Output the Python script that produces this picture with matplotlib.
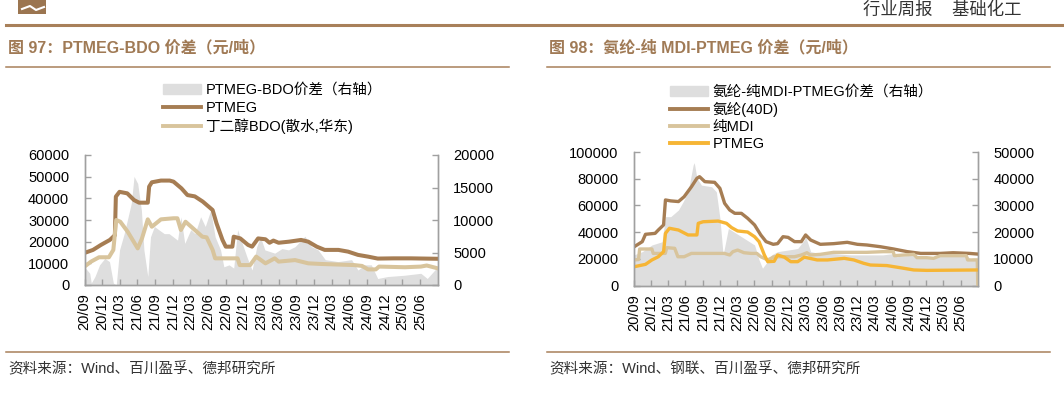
import matplotlib
matplotlib.use('Agg')
import matplotlib.pyplot as plt
import matplotlib.dates as mdates
import pandas as pd
from matplotlib.lines import Line2D
from matplotlib.patches import Patch, Rectangle

plt.rcParams['font.family'] = ['Liberation Sans', 'Noto Sans CJK SC']

# ---------------- data: figure 97 (PTMEG-BDO) ----------------
ptmeg1_dates = ['2020-09-01', '2020-10-15', '2020-11-25', '2021-01-10', '2021-02-05', '2021-02-10',
                '2021-03-01', '2021-04-10', '2021-05-15', '2021-06-10', '2021-07-25', '2021-08-01',
                '2021-08-15', '2021-10-01', '2021-11-15', '2021-12-05', '2022-01-15', '2022-02-15',
                '2022-03-25', '2022-05-05', '2022-06-25', '2022-07-15', '2022-08-15', '2022-09-01',
                '2022-10-05', '2022-10-12', '2022-11-15', '2022-12-25', '2023-01-15', '2023-02-15',
                '2023-03-25', '2023-04-15', '2023-05-05', '2023-06-01', '2023-07-25', '2023-09-25',
                '2023-11-01', '2023-12-15', '2024-01-25', '2024-04-05', '2024-05-25', '2024-07-15',
                '2024-09-05', '2024-10-25', '2025-01-15', '2025-04-15', '2025-08-31']
ptmeg1_vals = [14800, 16200, 18500, 20800, 23000, 40800, 43000, 42300, 39200, 38000, 38000, 45400,
               47400, 48200, 48200, 47700, 44600, 41500, 40900, 38500, 34600, 28500, 20800, 17700,
               17700, 22300, 21500, 18500, 17700, 21500, 21100, 19500, 20500, 19500, 20000, 20800,
               20000, 17700, 16200, 16200, 15400, 13900, 13100, 12200, 12300, 12300, 12100]

bdo_dates = ['2020-09-01', '2020-10-05', '2020-11-15', '2021-01-05', '2021-01-28', '2021-02-12',
             '2021-03-05', '2021-04-12', '2021-06-03', '2021-06-25', '2021-07-25', '2021-08-15',
             '2021-10-01', '2021-12-05', '2021-12-25', '2022-01-12', '2022-02-05', '2022-03-25',
             '2022-05-03', '2022-05-25', '2022-06-25', '2022-07-08', '2022-11-01', '2022-11-12',
             '2023-01-05', '2023-02-05', '2023-03-25', '2023-05-12', '2023-06-01', '2023-08-25',
             '2023-11-01', '2024-01-08', '2024-06-25', '2024-08-05', '2024-09-05', '2024-10-15',
             '2024-11-01', '2025-03-15', '2025-06-05', '2025-07-05', '2025-08-31']
bdo_vals = [8500, 10800, 12800, 12800, 16200, 30000, 29200, 24600, 16900, 21500, 30300, 26900,
            30300, 30800, 30800, 25400, 29200, 25400, 22300, 22000, 16200, 12300, 12300, 9200,
            9200, 13100, 10000, 12300, 10800, 11500, 10000, 9700, 9200, 8800, 7200, 7200,
            8500, 8200, 8500, 9000, 7700]

spread1_dates = ['2020-09-01', '2020-09-28', '2020-10-06', '2020-10-25', '2020-11-18', '2020-12-15',
                 '2021-01-08', '2021-01-28', '2021-02-12', '2021-03-01', '2021-03-25', '2021-05-01',
                 '2021-05-15', '2021-06-03', '2021-06-22', '2021-07-05', '2021-07-25', '2021-08-08',
                 '2021-08-28', '2021-09-20', '2021-10-18', '2021-11-12', '2021-12-26', '2022-01-12',
                 '2022-02-01', '2022-03-04', '2022-03-26', '2022-04-24', '2022-05-18', '2022-06-15',
                 '2022-07-08', '2022-08-05', '2022-08-22', '2022-09-18', '2022-10-12', '2022-11-01',
                 '2022-11-25', '2022-12-22', '2023-01-15', '2023-02-08', '2023-02-27', '2023-03-22',
                 '2023-05-12', '2023-06-18', '2023-07-22', '2023-08-25', '2023-10-15', '2023-11-18',
                 '2023-12-22', '2024-01-28', '2024-04-03', '2024-06-12', '2024-07-15', '2024-08-18',
                 '2024-09-22', '2024-10-25', '2024-12-15', '2025-03-12', '2025-06-05', '2025-07-08',
                 '2025-08-31']
spread1_vals = [2800, 1800, 300, 1300, 3100, 4100, 3600, 300, 0, 5400, 7900, 12600,
                16700, 15600, 11500, 5400, 1300, 7400, 9000, 8500, 7900, 7900, 6900, 10500,
                6400, 8500, 7900, 10500, 9000, 11500, 7400, 5400, 2800, 3100, 2600, 8500,
                6400, 4100, 2300, 5900, 7400, 5400, 4900, 5600, 5400, 5900, 7500, 5900,
                5400, 3900, 3600, 3900, 2300, 3100, 3100, 1000, 1300, 1500, 1800, 1000,
                2800]

# ---------------- data: figure 98 (spandex - MDI - PTMEG) ----------------
spandex_dates = ['2020-09-01', '2020-10-15', '2020-11-01', '2020-12-22', '2021-01-08', '2021-02-05',
                 '2021-02-15', '2021-03-15', '2021-04-25', '2021-05-25', '2021-07-03', '2021-08-01',
                 '2021-08-15', '2021-09-12', '2021-11-03', '2021-12-01', '2021-12-26', '2022-01-22',
                 '2022-02-18', '2022-03-25', '2022-04-27', '2022-06-03', '2022-07-06', '2022-08-03',
                 '2022-09-10', '2022-10-03', '2022-11-01', '2022-11-28', '2023-01-01', '2023-02-06',
                 '2023-03-01', '2023-03-28', '2023-05-18', '2023-07-28', '2023-10-08', '2023-12-01',
                 '2024-01-20', '2024-04-01', '2024-06-10', '2024-08-22', '2024-11-01', '2025-02-12',
                 '2025-04-22', '2025-07-18', '2025-08-31']
spandex_vals = [29000, 32900, 38400, 39100, 41600, 45400, 64100, 63400, 62900, 66500, 74000, 80300,
                81500, 77800, 77300, 72800, 61600, 56600, 54100, 54100, 50400, 45400, 37900, 32900,
                30900, 31400, 36600, 36100, 32900, 32900, 37900, 34100, 30900, 31400, 32400, 30900,
                30400, 29100, 27400, 25400, 24100, 24100, 24600, 24100, 23600]

mdi_dates = ['2020-09-01', '2020-09-25', '2020-10-01', '2020-12-05', '2020-12-12', '2021-02-14',
             '2021-02-22', '2021-04-05', '2021-04-22', '2021-05-25', '2021-07-03', '2021-12-25',
             '2022-01-22', '2022-02-08', '2022-03-05', '2022-04-08', '2022-05-15', '2022-06-15',
             '2022-07-06', '2022-08-12', '2022-09-15', '2023-01-01', '2023-02-06', '2023-03-08',
             '2023-03-26', '2023-05-18', '2023-07-28', '2024-01-20', '2024-04-15', '2024-06-08',
             '2024-06-14', '2024-09-25', '2024-10-12', '2024-12-03', '2025-01-08', '2025-02-12',
             '2025-07-01', '2025-07-08', '2025-08-28', '2025-08-31']
mdi_vals = [19200, 19500, 27400, 27400, 24100, 24100, 28400, 27900, 21600, 21600, 24100, 24100,
            22900, 25400, 26600, 24600, 24100, 24100, 21600, 19200, 21600, 21600, 22900, 24600,
            22900, 23400, 24900, 24900, 25400, 25400, 22400, 23400, 20900, 20900, 20400, 22400,
            22400, 19200, 19200, 0]

ptmeg2_dates = ['2020-09-01', '2020-11-01', '2020-12-05', '2021-01-08', '2021-02-05', '2021-02-15',
                '2021-03-08', '2021-04-25', '2021-06-15', '2021-08-01', '2021-08-08', '2021-09-03',
                '2021-11-22', '2022-01-05', '2022-02-01', '2022-03-05', '2022-04-27', '2022-06-03',
                '2022-06-27', '2022-07-25', '2022-08-12', '2022-09-15', '2022-10-03', '2022-11-08',
                '2022-12-12', '2023-01-18', '2023-02-22', '2023-05-01', '2023-06-25', '2023-09-22',
                '2023-11-12', '2024-01-03', '2024-02-08', '2024-05-05', '2024-07-15', '2024-09-25',
                '2024-12-03', '2025-08-31']
ptmeg2_vals = [14100, 15900, 19200, 21600, 25400, 39100, 42900, 41600, 37900, 37900, 46600, 47800,
               48300, 46600, 43400, 40900, 40100, 36600, 32900, 22900, 17900, 18200, 22900, 21300,
               17900, 17900, 21300, 19200, 19200, 20400, 19200, 16700, 15400, 15000, 13400, 11700,
               11400, 11700]

spread2_dates = ['2020-09-01', '2020-10-15', '2020-12-05', '2021-01-28', '2021-02-15', '2021-03-15',
                 '2021-04-25', '2021-05-20', '2021-06-15', '2021-07-12', '2021-07-18', '2021-08-01',
                 '2021-08-25', '2021-10-18', '2021-11-12', '2021-12-01', '2021-12-18', '2022-01-15',
                 '2022-04-08', '2022-06-03', '2022-06-27', '2022-07-15', '2022-08-03', '2022-09-01',
                 '2022-10-03', '2022-11-28', '2023-01-18', '2023-02-22', '2023-03-01', '2023-03-28',
                 '2023-05-18', '2023-07-28', '2023-10-25', '2024-01-20', '2024-04-15', '2024-06-08',
                 '2024-06-25', '2024-09-25', '2024-11-01', '2025-01-08', '2025-02-12', '2025-07-01',
                 '2025-07-18', '2025-08-31']
spread2_vals = [11500, 12700, 15200, 16400, 25800, 25800, 28300, 31400, 35100, 45100, 46000, 40200,
                37600, 37000, 35100, 25200, 11500, 21400, 17700, 15200, 9600, 6500, 8300, 11500,
                12700, 13300, 13900, 17100, 18300, 12700, 12000, 12000, 11500, 11500, 11500, 12000,
                10800, 11500, 10800, 10200, 11500, 11500, 10200, 9600]

W, H = 1064, 393
BROWN = '#a67d53'
TAN = '#d8c49c'
GREY_FILL = '#dedede'
ORANGE = '#f6b535'
TITLE_C = '#a07a55'
SPINE_C = '#a0a0a0'


def fx(px):
    return px / W


def fy(py):
    return 1 - py / H


fig = plt.figure(figsize=(W / 100, H / 100), dpi=100)

# header bits
fig.add_artist(Rectangle((fx(18), fy(14)), fx(28), 14 / H, transform=fig.transFigure,
                         color='#9b7550', lw=0))
fig.add_artist(Line2D([fx(22), fx(30), fx(36), fx(44)], [fy(9), fy(6), fy(10), fy(7)],
                      transform=fig.transFigure, color='white', lw=1.5))
fig.text(fx(863), fy(9.5), '行业周报    基础化工', fontsize=12.5, color='#333333',
         va='center', ha='left')
fig.add_artist(Line2D([fx(6), 1], [fy(24.5), fy(24.5)], transform=fig.transFigure,
                      color='#a8805a', lw=2.2))


def panel(left_px, right_px, title, source):
    fig.text(fx(left_px + 2), fy(48), title, fontsize=11.5, fontweight='bold',
             color=TITLE_C, va='center', ha='left')
    fig.add_artist(Line2D([fx(left_px), fx(right_px)], [fy(67), fy(67)],
                          transform=fig.transFigure, color='#a8805a', lw=1.1))
    fig.add_artist(Line2D([fx(left_px), fx(right_px)], [fy(352), fy(352)],
                          transform=fig.transFigure, color='#a8805a', lw=1.1))
    fig.text(fx(left_px + 2), fy(369), source, fontsize=10.5, color='#333333',
             va='center', ha='left')


def style(ax, ax2, xmax):
    ax.set_zorder(ax2.get_zorder() + 1)
    ax.patch.set_visible(False)
    ax.set_xlim(pd.Timestamp('2020-09-01'), pd.Timestamp(xmax))
    ticks = pd.date_range('2020-09-01', '2025-06-01', freq='QS-SEP')
    ax.set_xticks(ticks)
    ax.xaxis.set_major_formatter(mdates.DateFormatter('%y/%m'))
    for a in (ax, ax2):
        a.spines['top'].set_visible(False)
        for s in ('left', 'right', 'bottom'):
            a.spines[s].set_color(SPINE_C)
            a.spines[s].set_linewidth(1.0)
        a.tick_params(direction='in', length=4, color=SPINE_C, labelsize=10.5, width=1)
    ax.tick_params(axis='x', labelrotation=90, pad=6)
    ax.tick_params(axis='y', pad=11)
    ax2.tick_params(axis='y', pad=11)


# ---------------- figure 97 ----------------
panel(6, 509, '图 97：PTMEG-BDO 价差（元/吨）', '资料来源：Wind、百川盈孚、德邦研究所')
ax = fig.add_axes([fx(84.5), fy(285), fx(437.7) - fx(84.5), 130 / H])
ax2 = ax.twinx()
ax2.fill_between(pd.to_datetime(spread1_dates), spread1_vals, color=GREY_FILL, lw=0)
ax.plot(pd.to_datetime(ptmeg1_dates), ptmeg1_vals, color=BROWN, lw=2.9)
ax.plot(pd.to_datetime(bdo_dates), bdo_vals, color=TAN, lw=2.9)
ax.set_ylim(0, 60000)
ax.set_yticks(range(0, 60001, 10000))
ax2.set_ylim(0, 20000)
ax2.set_yticks(range(0, 20001, 5000))
style(ax, ax2, '2025-08-31')
handles = [Patch(color=GREY_FILL), Line2D([], [], color=BROWN, lw=2.8),
           Line2D([], [], color=TAN, lw=2.8)]
labels = ['PTMEG-BDO价差（右轴）', 'PTMEG', '丁二醇BDO(散水,华东)']
ax.legend(handles, labels, loc='upper left', bbox_to_anchor=(fx(163), fy(83)),
          bbox_transform=fig.transFigure, frameon=False, fontsize=10.5,
          handlelength=2.6, handletextpad=0.3, labelspacing=0.25, borderpad=0,
          borderaxespad=0)

# ---------------- figure 98 ----------------
panel(547, 1050, '图 98：氨纶-纯 MDI-PTMEG 价差（元/吨）', '资料来源：Wind、钢联、百川盈孚、德邦研究所')
bx = fig.add_axes([fx(634), fy(285.6), fx(978) - fx(634), 133.6 / H])
bx2 = bx.twinx()
bx2.fill_between(pd.to_datetime(spread2_dates), spread2_vals, color=GREY_FILL, lw=0)
bx.plot(pd.to_datetime(spandex_dates), spandex_vals, color=BROWN, lw=2.4)
bx.plot(pd.to_datetime(mdi_dates), mdi_vals, color=TAN, lw=2.4)
bx.plot(pd.to_datetime(ptmeg2_dates), ptmeg2_vals, color=ORANGE, lw=2.4)
bx.set_ylim(0, 100000)
bx.set_yticks(range(0, 100001, 20000))
bx2.set_ylim(0, 50000)
bx2.set_yticks(range(0, 50001, 10000))
style(bx, bx2, '2025-09-01')
handles = [Patch(color=GREY_FILL), Line2D([], [], color=BROWN, lw=2.8),
           Line2D([], [], color=TAN, lw=2.8), Line2D([], [], color=ORANGE, lw=2.8)]
labels = ['氨纶-纯MDI-PTMEG价差（右轴）', '氨纶(40D)', '纯MDI', 'PTMEG']
bx.legend(handles, labels, loc='upper left', bbox_to_anchor=(fx(670), fy(85)),
          bbox_transform=fig.transFigure, frameon=False, fontsize=10.5,
          handlelength=2.6, handletextpad=0.3, labelspacing=0.2, borderpad=0,
          borderaxespad=0)

fig.savefig('out.png', dpi=100)
